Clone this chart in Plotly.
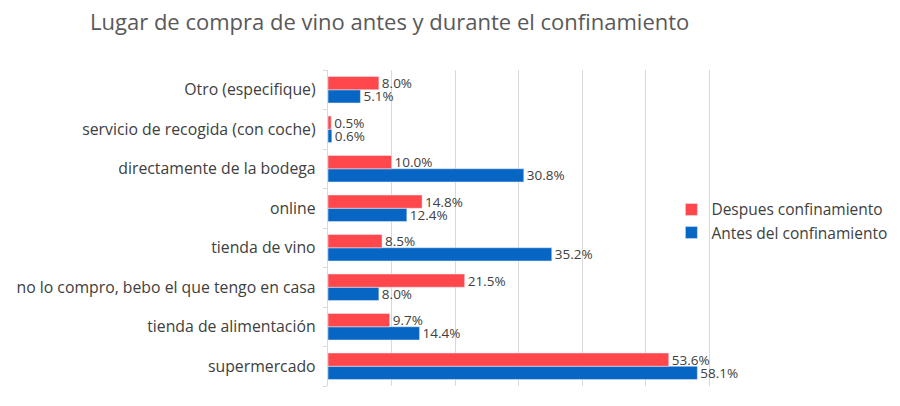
import plotly.graph_objects as go

categories = [
    "supermercado",
    "tienda de alimentación",
    "no lo compro, bebo el que tengo en casa",
    "tienda de vino",
    "online",
    "directamente de la bodega",
    "servicio de recogida (con coche)",
    "Otro (especifique)",
]
despues = [53.6, 9.7, 21.5, 8.5, 14.8, 10.0, 0.5, 8.0]
antes = [58.1, 14.4, 8.0, 35.2, 12.4, 30.8, 0.6, 5.1]

FONT = "Open Sans"
TXT = "#404040"

fig = go.Figure()
fig.add_trace(go.Bar(
    y=categories, x=antes, orientation="h", name="Antes del confinamiento",
    marker=dict(color="#0766C3"), legendgroup="a",
    text=[f"{v:.1f}%" for v in antes], textposition="outside",
    constraintext="none",
    textfont=dict(size=13.5, color=TXT, family=FONT), cliponaxis=False,
))
fig.add_trace(go.Bar(
    y=categories, x=despues, orientation="h", name="Despues confinamiento",
    marker=dict(color="#FF474C"), legendgroup="b",
    text=[f"{v:.1f}%" for v in despues], textposition="outside",
    constraintext="none",
    textfont=dict(size=13.5, color=TXT, family=FONT), cliponaxis=False,
))

fig.update_layout(
    width=900, height=406,
    margin=dict(l=328, r=127, t=70, b=20, autoexpand=False),
    paper_bgcolor="white", plot_bgcolor="white",
    barmode="group", bargap=0.33, bargroupgap=0,
    font=dict(family=FONT, color=TXT, size=15),
    title=dict(text="Lugar de compra de vino antes y durante el confinamiento",
               x=0.433, xanchor="center", y=0.945, yanchor="middle",
               font=dict(size=22, color="#595959", family=FONT)),
    legend=dict(xref="container", yref="container",
                x=0.746, y=0.525, xanchor="left", yanchor="top",
                traceorder="reversed", bgcolor="rgba(0,0,0,0)",
                font=dict(size=15.5, color=TXT, family=FONT),
                itemwidth=30, tracegroupgap=6),
    showlegend=True,
)
fig.update_xaxes(range=[0, 70], dtick=10, showticklabels=False,
                 showgrid=True, gridcolor="#D9D9D9", gridwidth=1,
                 zeroline=False, showline=False, automargin=False)
fig.update_yaxes(categoryorder="array", categoryarray=categories,
                 showline=True, linecolor="#D9D9D9", linewidth=1,
                 ticks="outside", tickson="boundaries", ticklen=4,
                 tickcolor="#D9D9D9", ticksuffix="  ", automargin=False,
                 tickfont=dict(size=15.8, color=TXT, family=FONT))

fig.write_html("out.html", config={"displayModeBar": False},
               post_script="document.body.style.margin='0';document.body.style.overflow='hidden';")
